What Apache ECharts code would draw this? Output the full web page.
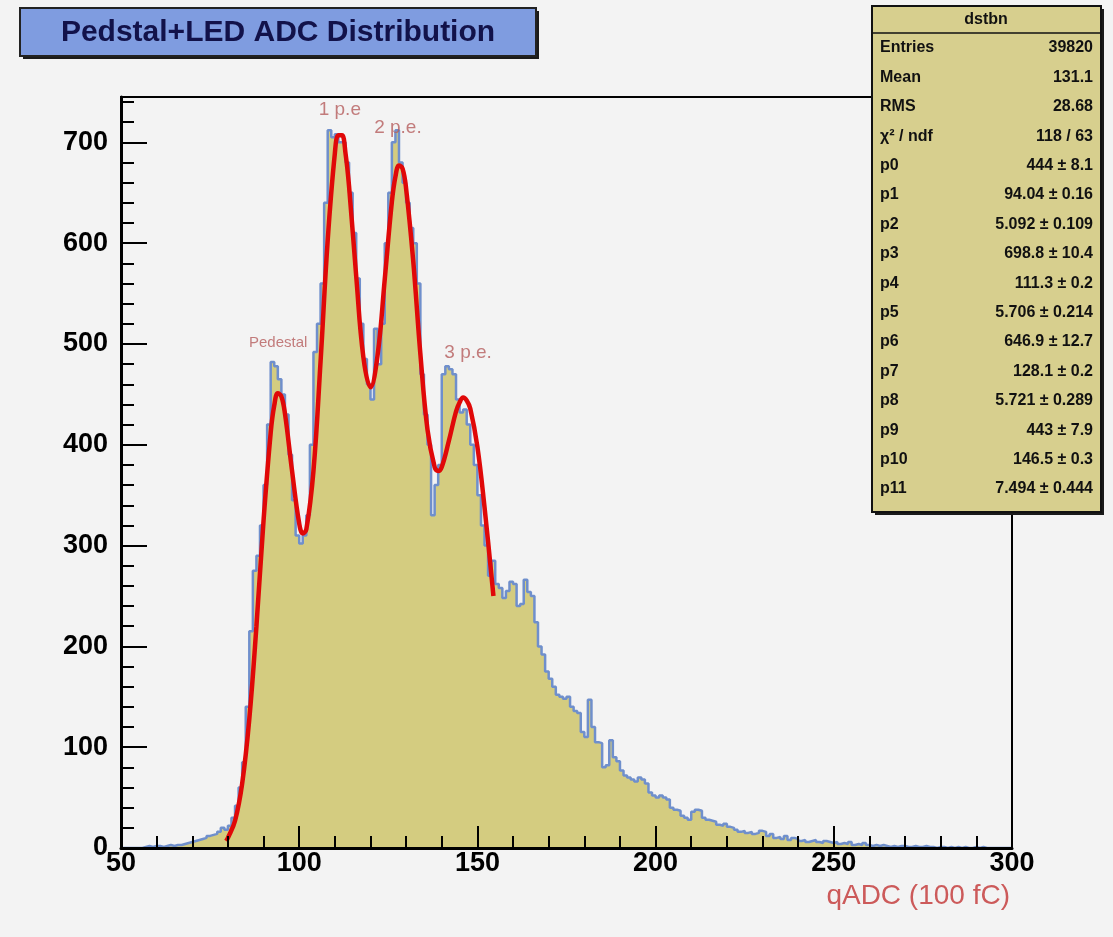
<!DOCTYPE html>
<html><head><meta charset="utf-8">
<script src="https://cdn.jsdelivr.net/npm/echarts@6/dist/echarts.min.js"></script>
<style>html,body{margin:0;padding:0;background:#f3f3f3}#main{width:1113px;height:937px}</style>
</head><body><div id="main"></div>
<script>
// ---- data ----
const binLow = 50, binWidth = 1;           // histogram bins [50,300) width 1
const counts = [
  0,0,0,0,0,0,
  1,2,1,2,2,1,2,3,2,3,
  3,4,5,6,7,8,9,10,12,13,
  14,16,20,18,22,30,42,60,85,140,
  215,275,290,320,360,420,482,478,465,450,
  430,390,345,310,302,310,330,400,492,520,
  560,640,712,705,708,700,700,680,650,610,
  565,520,485,460,445,515,480,520,600,650,
  700,712,680,660,640,615,600,560,470,430,
  400,330,360,380,470,478,475,470,445,432,
  435,420,400,380,350,320,300,270,285,262,
  258,248,255,264,262,240,242,266,254,250,
  224,200,192,175,168,160,152,150,148,150,
  140,136,134,115,110,147,120,105,104,80,
  82,107,90,86,77,72,70,68,66,70,
  68,64,55,52,50,52,50,48,40,38,
  37,32,30,28,36,38,37,30,28,27,
  26,23,22,24,21,20,18,16,17,15,
  16,14,15,17,16,12,14,10,11,9,
  12,8,10,9,7,8,6,7,8,6,
  5,7,6,5,6,4,5,4,6,3,
  4,3,5,3,2,3,2,3,2,1,
  2,1,2,2,1,1,2,1,1,2,
  1,1,0,1,1,0,1,0,1,0,
  1,0,0,1,0,1,0,0,0,0,
  0,0,0,0
];
const fitX = [79.5,80,82,84,86,88,90,92,93,94,95,96,98,100,101,102,104,106,108,110,111,112,113,114,116,118,120,122,124,126,127,128,129,130,132,134,136,138,139,140,142,144,145,146,147,148,150,152,154,154.5];
const fitY = [7,10,27,64,128,220,325,412,439,451,448,431,374,322,312,316,374,483,603,689,707,707,689,656,567,487,457,489,564,641,666,677,674,654,582,490,415,378,374,378,404,433,442,447,444,436,398,338,268,250];
const annoText = ['Pedestal', '1 p.e', '2 p.e.', '3 p.e.'];
const annoX = [94.1, 111.4, 127.7, 147.4];
const annoY = [501, 732, 714, 491];
const statLabels = ['Entries','Mean','RMS','\u03c7\u00b2 / ndf','p0','p1','p2','p3','p4','p5','p6','p7','p8','p9','p10','p11'];
const statValues = ['39820','131.1','28.68','118 / 63','444 \u00b1 8.1','94.04 \u00b1 0.16','5.092 \u00b1 0.109','698.8 \u00b1 10.4','111.3 \u00b1 0.2','5.706 \u00b1 0.214','646.9 \u00b1 12.7','128.1 \u00b1 0.2','5.721 \u00b1 0.289','443 \u00b1 7.9','146.5 \u00b1 0.3','7.494 \u00b1 0.444'];
const titleText = 'Pedstal+LED ADC Distribution';
const statTitle = 'dstbn';
const xName = 'qADC (100 fC)';

// ---- build ----
const NARROW = '"Liberation Sans Narrow", "Liberation Sans", Arial, sans-serif';
const histData = counts.map((c, i) => [binLow + i * binWidth, c]);
histData.push([binLow + counts.length * binWidth, counts[counts.length - 1]]);
const fitData = fitX.map((x, i) => [x, fitY[i]]);

const graphics = [
  {type:'rect', z:100, shape:{x:23,y:11,width:516,height:48}, style:{fill:'#1a1a1a'}},
  {type:'rect', z:101, shape:{x:20,y:8,width:516,height:48}, style:{fill:'#7f9ce0', stroke:'#222', lineWidth:2}},
  {type:'text', z:102, x:278, y:33, style:{text:titleText, fill:'#12124a', font:'bold 30px ' + NARROW, align:'center', verticalAlign:'middle'}},
  {type:'rect', z:100, shape:{x:875,y:9,width:229,height:506}, style:{fill:'#1a1a1a'}},
  {type:'rect', z:101, shape:{x:872,y:6,width:229,height:506}, style:{fill:'#d7cf8e', stroke:'#111', lineWidth:2}},
  {type:'line', z:102, shape:{x1:872,y1:33,x2:1101,y2:33}, style:{stroke:'#111', lineWidth:1.5}},
  {type:'text', z:102, x:986, y:20, style:{text:statTitle, fill:'#111', font:'bold 16px ' + NARROW, align:'center', verticalAlign:'middle'}}
];
statLabels.forEach((l, i) => {
  const y = 48 + i * 29.4;
  graphics.push({type:'text', z:102, x:880, y:y, style:{text:l, fill:'#111', font:'bold 16px ' + NARROW, align:'left', verticalAlign:'middle'}});
  graphics.push({type:'text', z:102, x:1093, y:y, style:{text:statValues[i], fill:'#111', font:'bold 16px ' + NARROW, align:'right', verticalAlign:'middle'}});
});

const labelFont = {fontFamily: NARROW, fontWeight:'bold', fontSize:27, color:'#000'};
const chart = echarts.init(document.getElementById('main'), null, {renderer:'canvas'});
chart.setOption({
  backgroundColor:'#f3f3f3',
  animation:false,
  grid:{left:121, right:101, top:97, bottom:89, show:true, borderColor:'#000', borderWidth:2, backgroundColor:'transparent'},
  xAxis:[{
    type:'value', min:50, max:300, interval:50, position:'bottom', z:10,
    axisLine:{show:true, onZero:false, lineStyle:{color:'#000', width:3}},
    axisTick:{show:true, inside:true, length:22, lineStyle:{color:'#000', width:2}},
    minorTick:{show:true, splitNumber:5, length:12, lineStyle:{color:'#000', width:2}},
    splitLine:{show:false}, minorSplitLine:{show:false},
    axisLabel:Object.assign({margin:2, verticalAlign:'top'}, labelFont),
    name:xName, nameLocation:'end', nameGap:-2,
    nameTextStyle:{fontFamily:NARROW, fontSize:28, color:'#cc5a5a', align:'right', verticalAlign:'top', padding:[34,0,0,0]}
  }],
  yAxis:[{
    type:'value', min:0, max:745, interval:20, position:'left', z:10,
    axisLine:{show:true, onZero:false, lineStyle:{color:'#000', width:3}},
    axisTick:{show:true, inside:true, length:13, lineStyle:{color:'#000', width:2}},
    splitLine:{show:false},
    axisLabel:Object.assign({margin:13, interval:0, formatter:v => (v % 100 === 0 ? String(v) : '')}, labelFont)
  },{
    type:'value', min:0, max:745, interval:100, position:'left', z:10,
    axisLine:{show:false},
    axisTick:{show:true, inside:true, length:26, lineStyle:{color:'#000', width:2}},
    splitLine:{show:false}, axisLabel:{show:false}
  }],
  series:[{
    type:'line', data:histData, step:'end', symbol:'none', z:2,
    lineStyle:{color:'#6f8fcc', width:2.5},
    areaStyle:{color:'#d4cc80', opacity:1}
  },{
    type:'line', data:fitData, smooth:0.4, symbol:'none', z:3,
    lineStyle:{color:'#e00808', width:4.5}
  },{
    type:'scatter', z:4, symbolSize:0,
    data:annoText.map((t, i) => ({value:[annoX[i], annoY[i]], label:{formatter:t, fontSize: i === 0 ? 15 : 19}})),
    label:{show:true, position:'inside', color:'#b55c5c', fontFamily:NARROW}
  }],
  graphic:graphics
});
</script></body></html>
